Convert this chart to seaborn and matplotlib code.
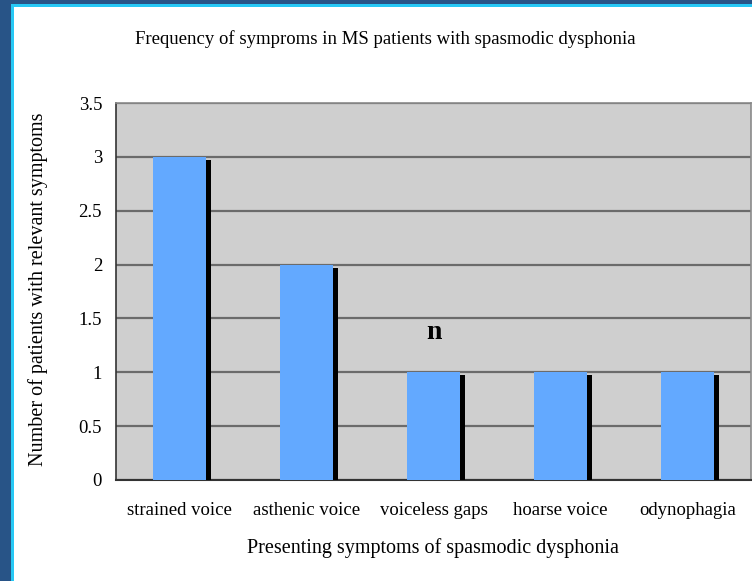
import matplotlib
matplotlib.use("Agg")
import matplotlib.pyplot as plt
import matplotlib.patheffects as pe
from matplotlib.patches import Rectangle
import seaborn as sns
import pandas as pd

categories = ["strained voice", "asthenic voice", "voiceless gaps", "hoarse voice", "odynophagia"]
counts = [3, 2, 1, 1, 1]
yticks = [0, 0.5, 1, 1.5, 2, 2.5, 3, 3.5]
ytick_labels = ["0", "0.5", "1", "1.5", "2", "2.5", "3", "3.5"]
title = "Frequency of symproms in MS patients with spasmodic dysphonia"
xlabel = "Presenting symptoms of spasmodic dysphonia"
ylabel = "Number of patients with relevant symptoms"
annotation = "n"

df = pd.DataFrame({"symptom": categories, "count": counts})

sns.set_theme(style="white")
plt.rcParams["font.family"] = ["Liberation Serif", "DejaVu Serif"]

W, H = 752, 581
fig = plt.figure(figsize=(W / 100, H / 100), dpi=100)
fig.patch.set_facecolor("#285487")
# cyan border and white frame
fig.add_artist(Rectangle((11 / W, 0), 1, 1 - 4 / H, transform=fig.transFigure,
                         facecolor="#27C8F5", edgecolor="none", zorder=0))
fig.add_artist(Rectangle((14 / W, 0), 1, 1 - 7 / H, transform=fig.transFigure,
                         facecolor="white", edgecolor="none", zorder=0))

ax = fig.add_axes([116 / W, 1 - 480 / H, (751 - 116) / W, (480 - 103) / H])
ax.set_facecolor("#CFCFCF")

sns.barplot(data=df, x="symptom", y="count", ax=ax, color="#63A9FF",
            saturation=1, width=0.41, zorder=3)
for p in ax.patches:
    p.set_edgecolor("none")
    p.set_path_effects([pe.SimplePatchShadow(offset=(3.6, -2.2), shadow_rgbFace="black", alpha=1.0),
                        pe.Normal()])

ax.set_xlim(-0.5, 4.5)
ax.set_ylim(0, 3.5)
ax.set_yticks(yticks)
ax.set_yticklabels(ytick_labels)
ax.yaxis.grid(True, color="#6B6B6B", linewidth=1.6, zorder=1)
ax.set_axisbelow(True)

ax.set_xticks(range(len(categories)))
ax.set_xticklabels(categories)
ax.set_xticks([i - 0.5 for i in range(len(categories) + 1)], minor=True)
ax.tick_params(axis="x", which="major", length=0, pad=16, labelsize=13.5, labelcolor="black")
ax.tick_params(axis="x", which="minor", length=5, width=1, color="#333333", direction="out")
ax.tick_params(axis="y", length=5, width=1, color="#333333", direction="out", pad=5,
               labelsize=13.5, labelcolor="black")

for side in ["top", "right"]:
    ax.spines[side].set_color("#8A8A8A")
    ax.spines[side].set_linewidth(1.2)
ax.spines["left"].set_color("#333333")
ax.spines["bottom"].set_color("#333333")
ax.spines["left"].set_linewidth(1.2)
ax.spines["bottom"].set_linewidth(1.5)

ax.set_xlabel("")
ax.set_ylabel("")

ax.text(2, 1.37, annotation, ha="center", va="center", fontsize=20, fontweight="bold", color="black")

fig.text(385 / W, 1 - 39 / H, title, ha="center", va="center", fontsize=13.5, color="black")
fig.text(433 / W, 1 - 548 / H, xlabel, ha="center", va="center", fontsize=14.5, color="black")
fig.text(38 / W, 1 - 289 / H, ylabel, ha="center", va="center", rotation=90, fontsize=14.5, color="black")

fig.savefig("out.png", dpi=100, facecolor=fig.get_facecolor())
